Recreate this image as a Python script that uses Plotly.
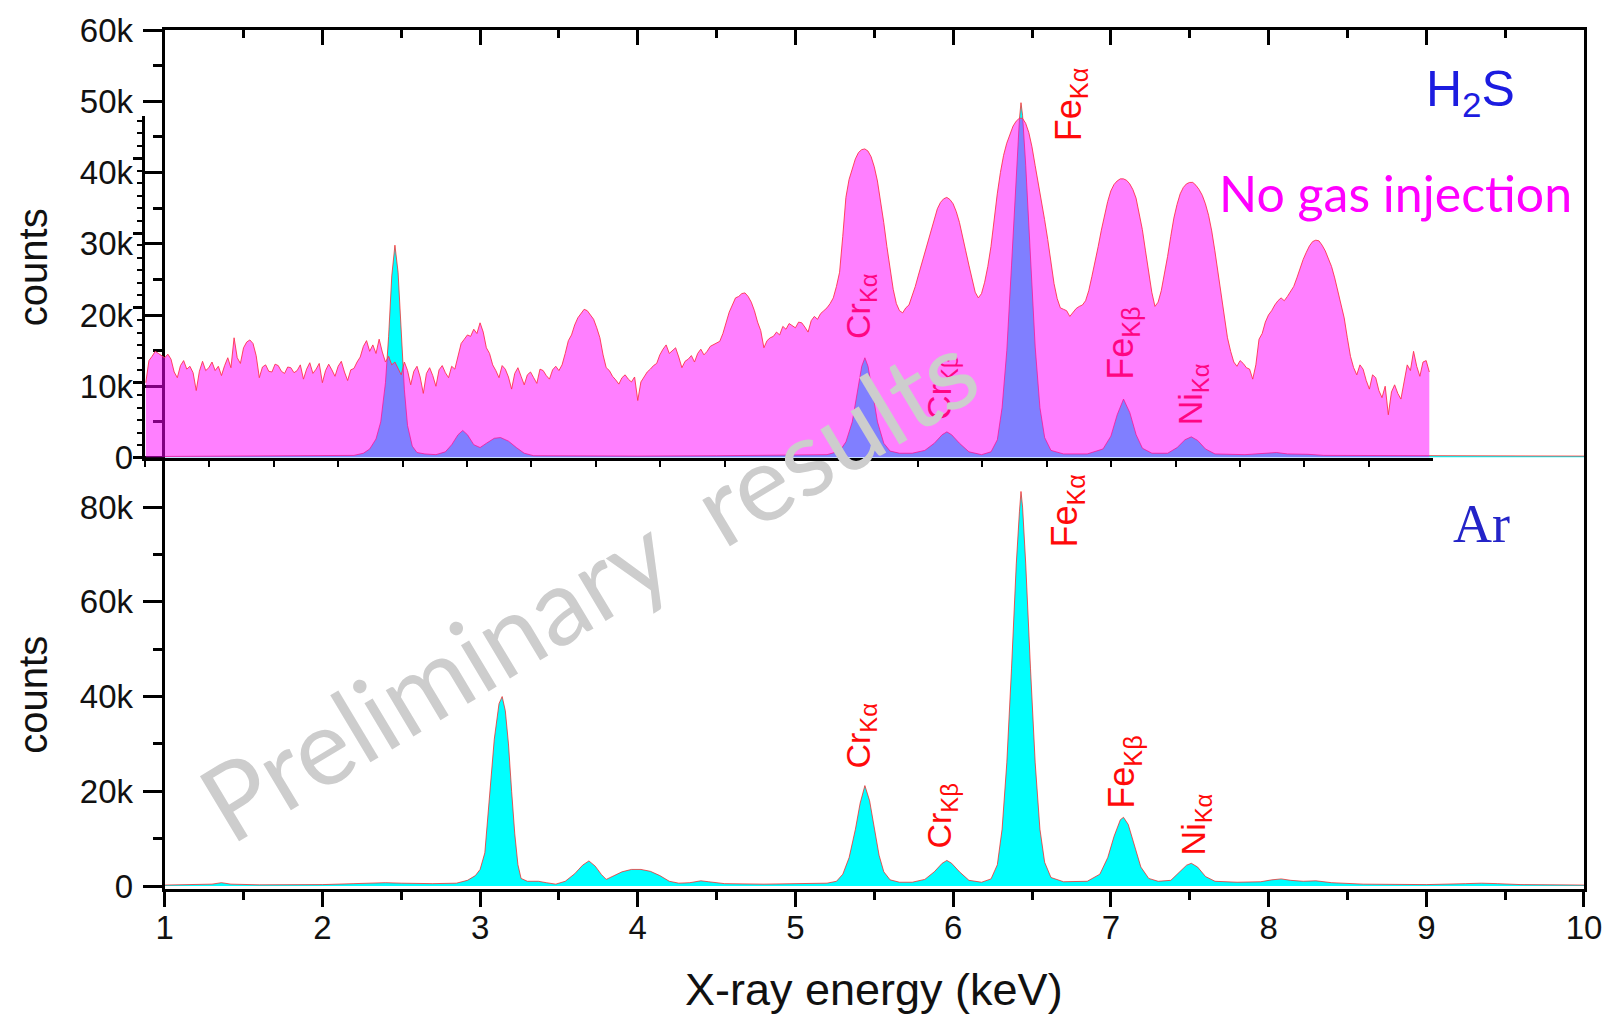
import numpy as np
import plotly.graph_objects as go

# ---------------------------------------------------------------
# Spectra (counts in thousands, energy in keV)
# ---------------------------------------------------------------

# H2S-injected discharge (top panel)
h2s_energy = [1.00, 1.50, 2.00, 2.20, 2.26, 2.30, 2.34, 2.37, 2.40, 2.42,
              2.44, 2.46, 2.48, 2.50, 2.52, 2.54, 2.57, 2.60, 2.65, 2.72,
              2.78, 2.82, 2.86, 2.89, 2.92, 2.96, 3.00, 3.04, 3.09, 3.13,
              3.18, 3.23, 3.28, 3.34, 3.60, 4.00, 4.50, 5.00, 5.20, 5.28,
              5.32, 5.36, 5.39, 5.42, 5.44, 5.46, 5.49, 5.52, 5.56, 5.60,
              5.66, 5.74, 5.82, 5.88, 5.93, 5.96, 5.99, 6.04, 6.10, 6.18,
              6.24, 6.28, 6.31, 6.34, 6.37, 6.40, 6.42, 6.43, 6.44, 6.46,
              6.49, 6.52, 6.55, 6.58, 6.62, 6.70, 6.85, 6.95, 7.00, 7.04,
              7.08, 7.12, 7.16, 7.20, 7.26, 7.36, 7.42, 7.47, 7.51, 7.55,
              7.60, 7.66, 7.85, 8.00, 8.05, 8.12, 8.25, 8.35, 9.00, 10.00]
h2s_counts_k = [0.15, 0.2, 0.2, 0.3, 0.6, 1.2, 2.6, 5.0, 10.5, 17.0,
                25.5, 29.8, 26.0, 17.0, 9.5, 4.5, 1.6, 0.7, 0.5, 0.4,
                0.8, 1.8, 3.2, 3.8, 3.2, 1.8, 1.4, 2.0, 2.7, 2.8,
                2.3, 1.4, 0.6, 0.25, 0.2, 0.2, 0.25, 0.3, 0.4, 0.9,
                2.2, 5.0, 9.0, 12.8, 14.0, 12.8, 9.0, 5.0, 2.0, 0.9,
                0.6, 0.6, 1.0, 2.0, 3.2, 3.6, 3.2, 2.0, 0.8, 0.4,
                0.8, 2.5, 7.0, 15.0, 27.0, 40.0, 47.5, 49.8, 48.0, 41.0,
                28.0, 15.5, 7.0, 2.8, 1.0, 0.5, 0.5, 1.2, 3.0, 6.0,
                8.2, 6.3, 3.2, 1.3, 0.6, 0.6, 1.4, 2.5, 2.9, 2.4,
                1.2, 0.5, 0.4, 0.6, 0.7, 0.5, 0.45, 0.3, 0.25, 0.2]

# Ar-injected discharge (bottom panel)
ar_energy = [1.00, 1.20, 1.30, 1.36, 1.42, 1.60, 2.00, 2.20, 2.40, 2.50,
             2.70, 2.85, 2.92, 2.97, 3.00, 3.03, 3.06, 3.09, 3.12, 3.14,
             3.16, 3.18, 3.20, 3.22, 3.24, 3.26, 3.30, 3.37, 3.42, 3.48,
             3.54, 3.60, 3.65, 3.69, 3.73, 3.77, 3.80, 3.84, 3.90, 3.96,
             4.02, 4.08, 4.14, 4.20, 4.26, 4.33, 4.40, 4.45, 4.55, 4.80,
             5.00, 5.20, 5.26, 5.30, 5.34, 5.38, 5.41, 5.44, 5.47, 5.50,
             5.53, 5.56, 5.60, 5.66, 5.74, 5.82, 5.88, 5.93, 5.96, 5.99,
             6.04, 6.10, 6.18, 6.24, 6.28, 6.31, 6.34, 6.37, 6.40, 6.42,
             6.43, 6.44, 6.46, 6.49, 6.52, 6.55, 6.58, 6.62, 6.70, 6.85,
             6.93, 6.98, 7.02, 7.06, 7.08, 7.11, 7.15, 7.19, 7.24, 7.30,
             7.38, 7.43, 7.48, 7.51, 7.55, 7.60, 7.66, 7.80, 7.95, 8.02,
             8.08, 8.14, 8.22, 8.30, 8.40, 8.60, 9.00, 9.25, 9.35, 9.45,
             9.60, 10.00]
ar_counts_k = [0.2, 0.25, 0.4, 0.7, 0.4, 0.25, 0.3, 0.5, 0.7, 0.6,
               0.5, 0.6, 1.2, 2.2, 3.5, 7.0, 20.0, 31.0, 38.5, 40.0,
               37.0, 30.0, 20.0, 11.0, 4.5, 1.6, 1.0, 1.0, 0.7, 0.4,
               1.0, 2.6, 4.4, 5.3, 4.2, 2.4, 1.4, 2.0, 3.0, 3.5,
               3.5, 3.1, 2.2, 1.0, 0.6, 0.7, 1.1, 0.9, 0.5, 0.4,
               0.5, 0.6, 1.0, 2.5, 6.0, 12.0, 17.5, 21.2, 18.0, 12.0,
               6.5, 3.0, 1.3, 0.8, 0.8, 1.4, 3.0, 4.8, 5.4, 4.8,
               3.0, 1.2, 0.8, 1.5, 4.5, 12.0, 26.0, 46.0, 68.0, 79.0,
               83.3, 80.0, 68.0, 46.0, 26.0, 12.0, 5.0, 1.8, 0.9, 1.0,
               2.5, 6.0, 10.5, 14.0, 14.5, 13.0, 8.5, 4.0, 1.6, 1.0,
               1.2, 2.8, 4.4, 4.8, 4.0, 2.0, 1.0, 0.8, 0.9, 1.3,
               1.5, 1.2, 1.0, 1.1, 0.7, 0.4, 0.3, 0.5, 0.6, 0.5,
               0.3, 0.2]

# Reference discharge without gas injection: 0.02 keV channels from 0.88 keV
nogas_start_kev = 0.88
nogas_step_kev = 0.02
nogas_counts_k = [
    # 0.88
    10.5, 13.6, 14.2, 14.9, 14.6, 14.3, 14.0, 14.5, 13.8, 12.0,
    11.2, 12.9, 13.6, 12.4, 12.8, 11.9, 9.4, 12.1, 13.5, 12.2,
    # 1.28
    12.6, 13.4, 12.2, 12.8, 11.5, 12.9, 14.0, 12.6, 16.8, 14.0,
    13.2, 15.4, 16.2, 16.5, 16.0, 14.3, 11.2, 12.7, 13.0, 12.1,
    # 1.68
    12.0, 13.1, 12.9, 12.1, 11.8, 12.7, 12.6, 11.9, 12.2, 13.0,
    11.0, 12.4, 13.3, 11.8, 12.4, 13.2, 10.5, 12.2, 13.1, 12.3,
    # 2.08
    11.4, 12.8, 13.5, 12.0, 10.8, 12.3, 12.5, 13.4, 14.1, 15.6,
    16.4, 14.9, 15.8, 14.6, 16.6, 14.8, 13.4, 14.2, 13.0, 13.4,
    # 2.48
    12.4, 11.6, 13.4, 12.2, 10.2, 12.1, 12.8, 11.3, 9.0, 11.8,
    12.6, 11.5, 10.0, 12.3, 12.9, 11.9, 11.2, 12.8, 12.4, 14.2,
    # 2.88
    16.0, 16.6, 17.2, 17.0, 18.0, 17.4, 18.9, 17.6, 15.4, 14.6,
    13.0, 12.2, 11.2, 12.9, 12.4, 11.3, 9.6, 11.8, 12.6, 11.4,
    # 3.28
    10.2, 11.6, 12.0, 11.2, 10.4, 12.4, 12.2, 11.5, 11.0, 12.3,
    12.8, 12.2, 13.0, 14.6, 16.4, 17.2, 18.6, 19.6, 20.2, 20.8,
    # 3.68
    20.6, 20.0, 19.4, 18.2, 16.8, 14.4, 12.6, 12.2, 11.4, 10.9,
    10.3, 11.2, 11.6, 11.0, 10.6, 11.3, 8.0, 10.6, 11.4, 12.0,
    # 4.08
    12.4, 12.9, 13.2, 14.4, 15.2, 15.8, 14.6, 15.0, 15.4, 14.1,
    12.6, 13.5, 13.8, 14.3, 13.4, 14.6, 15.2, 14.4, 14.9, 15.6,
    # 4.48
    15.8, 16.0, 16.3, 17.4, 19.0, 20.4, 21.4, 22.4, 22.6, 23.0,
    23.1, 22.6, 21.8, 20.6, 19.0, 17.8, 15.4, 16.4, 16.8, 17.0,
    # 4.88
    17.6, 17.2, 18.4, 18.0, 18.8, 18.5, 18.2, 19.0, 18.9, 18.3,
    17.6, 19.2, 19.8, 19.4, 20.2, 20.6, 21.0, 21.6, 22.4, 24.0,
    # 5.28
    26.0, 31.0, 36.5, 39.0, 40.6, 41.9, 42.8, 43.2, 43.3, 43.0,
    42.2, 40.8, 38.8, 36.2, 33.0, 29.6, 26.5, 23.6, 21.6, 20.6,
    # 5.68
    20.3, 21.0, 21.4, 22.6, 24.0, 25.6, 27.2, 28.7, 30.2, 31.9,
    33.6, 34.9, 35.8, 36.3, 36.5, 36.2, 35.6, 34.5, 33.0, 31.2,
    # 6.08
    29.0, 27.0, 25.0, 23.2, 22.4, 23.0, 24.6, 26.8, 29.6, 33.4,
    37.0, 40.0, 42.4, 44.1, 45.4, 46.5, 47.2, 47.6, 47.6, 46.9,
    # 6.48
    45.6, 43.6, 41.0, 38.6, 36.0, 33.4, 30.6, 27.4, 24.4, 22.3,
    21.0, 20.8, 20.6, 19.8, 20.3, 20.9, 21.2, 21.4, 22.0, 23.4,
    # 6.88
    25.4, 27.4, 29.6, 31.9, 34.0, 35.9, 37.4, 38.3, 38.8, 39.1,
    39.1, 38.9, 38.4, 37.6, 36.4, 34.4, 32.0, 29.0, 26.0, 23.2,
    # 7.28
    21.2, 21.8, 23.4, 25.6, 28.2, 31.0, 33.6, 35.5, 37.0, 37.9,
    38.4, 38.6, 38.6, 38.2, 37.6, 36.8, 35.6, 34.0, 31.8, 29.0,
    # 7.68
    26.0, 22.8, 19.6, 16.8, 14.9, 13.4, 12.8, 13.6, 13.2, 12.6,
    12.4, 11.0, 13.0, 16.6, 17.4, 19.0, 20.0, 20.6, 21.4, 22.0,
    # 8.08
    22.4, 22.0, 22.6, 23.4, 24.0, 25.2, 26.6, 27.8, 28.8, 29.7,
    30.3, 30.5, 30.4, 29.8, 29.0, 28.0, 26.8, 25.2, 23.4, 21.6,
    # 8.48
    19.6, 16.8, 14.2, 12.6, 11.6, 13.0, 12.4, 10.8, 9.6, 11.6,
    11.2, 9.4, 8.4, 10.0, 6.0, 9.2, 10.2, 9.0, 8.2, 10.6,
    # 8.88
    13.0, 12.2, 14.9, 12.8, 11.4, 13.4, 13.6, 12.0,
]

# Emission lines marked on each panel: (element, line, energy keV, label base in k counts)
top_lines = [("Cr", "α", 5.413, 16.3), ("Cr", "β", 5.926, 5.0), ("Fe", "α", 6.743, 44.1),
             ("Fe", "β", 7.079, 10.6), ("Ni", "α", 7.517, 4.3)]
bottom_lines = [("Cr", "α", 5.413, 24.3), ("Cr", "β", 5.926, 7.5), ("Fe", "α", 6.724, 71.0),
                ("Fe", "β", 7.086, 15.9), ("Ni", "α", 7.535, 6.1)]

x_ticks = list(range(1, 11))

# ---------------------------------------------------------------
h2s_counts = np.array(h2s_counts_k) * 1000
ar_counts = np.array(ar_counts_k) * 1000
nogas_counts = np.array(nogas_counts_k) * 1000
nogas_energy = np.round(nogas_start_kev + nogas_step_kev * np.arange(len(nogas_counts)), 3)

SANS = "Liberation Sans, Arial, sans-serif"
EDGE = "rgba(255,20,20,0.7)"

fig = go.Figure()

fig.add_trace(go.Scatter(
    x=h2s_energy, y=h2s_counts, xaxis="x", yaxis="y", mode="lines",
    fill="tozeroy", fillcolor="#00ffff", line=dict(color=EDGE, width=1),
    hoverinfo="skip", showlegend=False))

fig.add_trace(go.Scatter(
    x=ar_energy, y=ar_counts, xaxis="x2", yaxis="y2", mode="lines",
    fill="tozeroy", fillcolor="#00ffff", line=dict(color=EDGE, width=1),
    hoverinfo="skip", showlegend=False))

fig.add_trace(go.Scatter(
    x=nogas_energy, y=nogas_counts, xaxis="x3", yaxis="y3", mode="lines",
    fill="tozeroy", fillcolor="rgba(255,0,255,0.5)",
    line=dict(color="rgba(255,50,80,0.9)", width=1),
    hoverinfo="skip", showlegend=False))

# ---------------------------------------------------------------
# Layout geometry (pixels -> paper fractions)
W, H = 1614, 1015
ML, MR, MT, MB = 135, 29, 23, 126
PW, PH = W - ML - MR, H - MT - MB


def px(xp):
    return (xp - ML) / PW


def py(yp):
    return (H - MB - yp) / PH


split = py(454)
main_dom = [px(164.7), 1.0]

axis_line = dict(showline=True, linecolor="black", linewidth=3, showgrid=False,
                 zeroline=False, tickcolor="black", tickwidth=3)
tick_font = dict(family=SANS, size=33, color="#111")

fig.update_layout(
    width=W, height=H,
    margin=dict(l=ML, r=MR, t=MT, b=MB),
    paper_bgcolor="white", plot_bgcolor="rgba(0,0,0,0)",
    showlegend=False,
    # top panel: frame with inward ticks along the top edge
    xaxis=dict(domain=main_dom, anchor="y", side="top", range=[1, 10],
               tickvals=x_ticks, ticks="inside", ticklen=15, showticklabels=False,
               minor=dict(dtick=0.5, ticks="inside", ticklen=8, tickwidth=3, tickcolor="black"),
               **axis_line),
    yaxis=dict(domain=[split, 1.0], anchor="x", range=[0, 60000], dtick=10000,
               tickformat="~s", ticks="outside", ticklen=19, mirror=True,
               ticklabelstandoff=3, tickfont=tick_font,
               minor=dict(dtick=5000, ticks="outside", ticklen=9, tickwidth=3, tickcolor="black"),
               **axis_line),
    # bottom panel
    xaxis2=dict(domain=main_dom, anchor="y2", range=[1, 10], tickvals=x_ticks,
                ticks="outside", ticklen=15, ticklabelstandoff=-8, tickfont=tick_font,
                minor=dict(dtick=0.5, ticks="outside", ticklen=8, tickwidth=3, tickcolor="black"),
                **axis_line),
    yaxis2=dict(domain=[0, split], anchor="x2", range=[-630, 90470], dtick=20000,
                tickformat="~s", ticks="outside", ticklen=19, mirror=True,
                ticklabelstandoff=3, tickfont=tick_font,
                minor=dict(dtick=10000, ticks="outside", ticklen=9, tickwidth=3, tickcolor="black"),
                **axis_line),
    # inward ticks along the top edge of the bottom panel
    xaxis4=dict(overlaying="x2", anchor="y2", side="top", range=[1, 10],
                tickvals=x_ticks, ticks="inside", ticklen=15, tickwidth=3,
                tickcolor="black", showline=False, showgrid=False, zeroline=False,
                showticklabels=False,
                minor=dict(dtick=0.5, ticks="inside", ticklen=8, tickwidth=3, tickcolor="black")),
    # inset frame of the no-gas spectrum
    xaxis3=dict(domain=[px(145), px(1434)], anchor="y3", range=[0.875, 9.044],
                tick0=0.875, dtick=0.4085, ticks="outside", ticklen=6, tickwidth=2,
                showticklabels=False, **{k: v for k, v in axis_line.items() if k != "tickwidth"}),
    yaxis3=dict(domain=[split, py(110)], anchor="x3", range=[0, 47880],
                dtick=10500, ticks="outside", ticklen=9, showticklabels=False,
                layer="below traces",
                minor=dict(dtick=1750, ticks="outside", ticklen=5, tickwidth=2, tickcolor="black"),
                **axis_line),
)

# ---------------------------------------------------------------
annotations = []


def line_label(el, ln, x, yk, xref, yref, color, size):
    return dict(text=f"{el}<sub>K{ln}</sub>", x=x, y=yk * 1000, xref=xref, yref=yref,
                textangle=-90, xanchor="center", yanchor="bottom", showarrow=False,
                font=dict(family=SANS, size=size, color=color))


for el, ln, x, yk in top_lines:
    # labels lying under the translucent inset take on its magenta tint
    color = "#ff0a0a" if yk > 40 else "#ff0583"
    annotations.append(line_label(el, ln, x, yk, "x", "y", color, 36 if el == "Fe" else 34))
for el, ln, x, yk in bottom_lines:
    annotations.append(line_label(el, ln, x, yk, "x2", "y2", "#ff0a0a", 36 if el == "Fe" else 34))

annotations += [
    dict(text="counts", x=px(33), y=py(262), xref="paper", yref="paper", textangle=-90,
         xanchor="center", yanchor="middle", showarrow=False,
         font=dict(family=SANS, size=40, color="#111")),
    dict(text="counts", x=px(33), y=py(693), xref="paper", yref="paper", textangle=-90,
         xanchor="center", yanchor="middle", showarrow=False,
         font=dict(family=SANS, size=40, color="#111")),
    dict(text="X-ray energy (keV)", x=px(875), y=py(990), xref="paper", yref="paper",
         xanchor="center", yanchor="middle", showarrow=False,
         font=dict(family=SANS, size=45, color="#111")),
    dict(text="H<sub>2</sub>S", x=px(1471), y=py(86), xref="paper", yref="paper",
         xanchor="center", yanchor="middle", showarrow=False,
         font=dict(family=SANS, size=50, color="#1c1ce0")),
    dict(text="Ar", x=px(1482), y=py(521), xref="paper", yref="paper",
         xanchor="center", yanchor="middle", showarrow=False,
         font=dict(family="Liberation Serif, Times New Roman, serif", size=54, color="#2424c8")),
    dict(text="No gas injection", x=px(1396), y=py(187), xref="paper", yref="paper",
         xanchor="center", yanchor="middle", showarrow=False,
         font=dict(family="Lato, Open Sans, sans-serif", size=50, color="#ff00ff")),
    dict(text="Preliminary\u00a0\u00a0results", x=px(588), y=py(582), xref="paper", yref="paper",
         xanchor="center", yanchor="middle", textangle=-31, showarrow=False,
         font=dict(family="Lato, Open Sans, sans-serif", size=106, color="#cdcdcd")),
]
fig.update_layout(annotations=annotations)

fig.write_html("out.html")
